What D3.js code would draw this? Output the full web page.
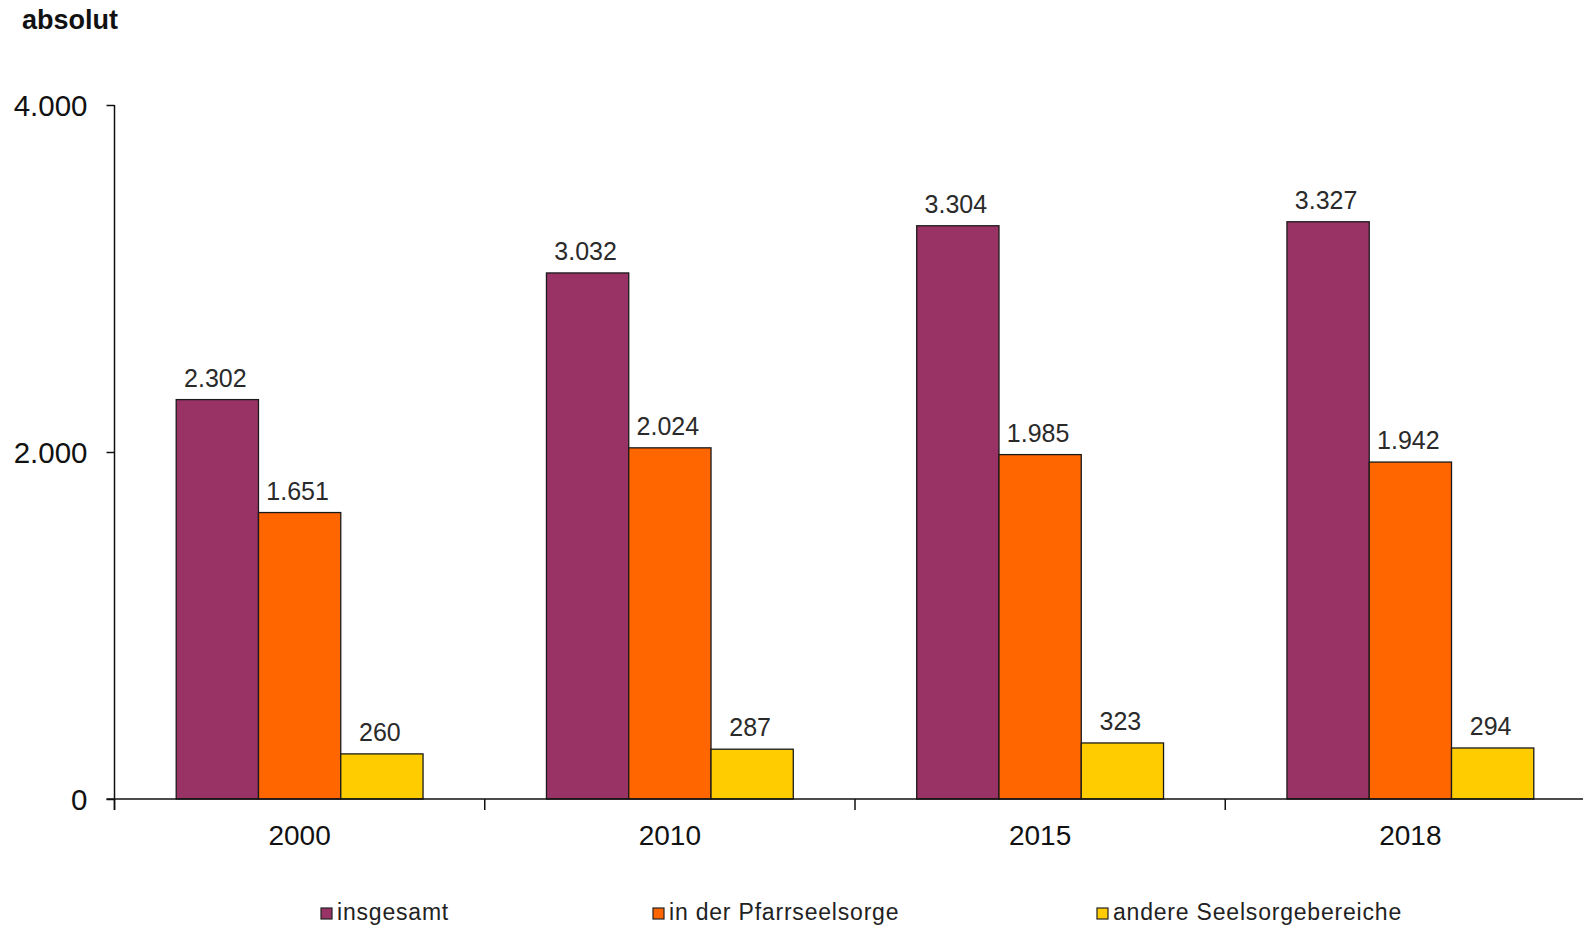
<!DOCTYPE html>
<html>
<head>
<meta charset="utf-8">
<script src="https://cdn.jsdelivr.net/npm/d3@7"></script>
<style>
  html, body { margin: 0; padding: 0; background: #fff; }
  svg { display: block; font-family: "Liberation Sans", Arial, sans-serif; }
</style>
</head>
<body>
<svg id="chart" width="1583" height="928"></svg>
<script>
// ---- data ----
const years = ["2000", "2010", "2015", "2018"];
const seriesNames = ["insgesamt", "in der Pfarrseelsorge", "andere Seelsorgebereiche"];
const insgesamt = [2302, 3032, 3304, 3327];
const pfarrseelsorge = [1651, 2024, 1985, 1942];
const andere = [260, 287, 323, 294];
const yTicks = [0, 2000, 4000];
const colors = ["#993366", "#FF6600", "#FFCC00"];
const yLabel = "absolut";

const seriesValues = [insgesamt, pfarrseelsorge, andere];

// ---- layout ----
const svg = d3.select("#chart");
const plotLeft = 114.5, plotRight = 1595.5, plotTop = 105, plotBottom = 799;

const de = d3.formatLocale({ decimal: ",", thousands: ".", grouping: [3], currency: ["", " €"] });
const fmt = de.format(",d");

const x0 = d3.scaleBand().domain(years).range([plotLeft, plotRight]).paddingInner(0).paddingOuter(0);
const x1 = d3.scaleBand().domain(seriesNames).range([0, x0.bandwidth()]).paddingInner(0).paddingOuter(0.75);
const y = d3.scaleLinear().domain([0, 4000]).range([plotBottom, plotTop]);

// bars
const groups = svg.append("g").selectAll("g")
  .data(years)
  .join("g")
  .attr("transform", d => `translate(${x0(d)},0)`);

groups.selectAll("rect")
  .data((d, i) => seriesNames.map((s, j) => ({ s, j, v: seriesValues[j][i] })))
  .join("rect")
  .attr("x", d => x1(d.s))
  .attr("y", d => y(d.v))
  .attr("width", x1.bandwidth())
  .attr("height", d => y(0) - y(d.v))
  .attr("fill", d => colors[d.j])
  .attr("stroke", "#1a1a1a")
  .attr("stroke-width", 1.3);

groups.selectAll("text.val")
  .data((d, i) => seriesNames.map((s, j) => ({ s, j, v: seriesValues[j][i] })))
  .join("text")
  .attr("class", "val")
  .attr("x", d => x1(d.s) + x1.bandwidth() / 2 - 2)
  .attr("y", d => y(d.v) - 13)
  .attr("text-anchor", "middle")
  .attr("font-size", 25)
  .attr("fill", "#2a2a2a")
  .text(d => fmt(d.v));

// y axis
const yAxis = d3.axisLeft(y).tickValues(yTicks).tickFormat(fmt).tickSize(8).tickSizeOuter(0);
const gy = svg.append("g").attr("transform", `translate(${plotLeft},0)`).call(yAxis);
gy.select(".domain").attr("stroke", "#111").attr("stroke-width", 1.5)
  .attr("d", `M0,${plotTop}V${plotBottom + 11}`);
gy.selectAll(".tick line").attr("stroke", "#111").attr("stroke-width", 1.5);
gy.selectAll(".tick text")
  .attr("x", -27)
  .attr("dy", "0.35em")
  .attr("font-size", 29.5)
  .attr("fill", "#111")
  .attr("font-family", "Liberation Sans, Arial, sans-serif");

// x axis
const xTickScale = d3.scaleLinear().domain([0, years.length]).range([plotLeft, plotRight]);
const gx = svg.append("g").attr("transform", `translate(0,${plotBottom})`);
gx.append("path").attr("d", `M${plotLeft - 8},0H${plotRight}`).attr("stroke", "#111").attr("stroke-width", 1.5).attr("fill", "none");
gx.selectAll("line.tick")
  .data(d3.range(years.length + 1))
  .join("line")
  .attr("class", "tick")
  .attr("x1", d => xTickScale(d)).attr("x2", d => xTickScale(d))
  .attr("y1", 0).attr("y2", 11)
  .attr("stroke", "#111").attr("stroke-width", 1.5);
gx.selectAll("text")
  .data(years)
  .join("text")
  .attr("x", d => x0(d) + x0.bandwidth() / 2)
  .attr("y", 46)
  .attr("text-anchor", "middle")
  .attr("font-size", 28)
  .attr("fill", "#111")
  .text(d => d);

// y label
svg.append("text")
  .attr("x", 22).attr("y", 29)
  .attr("font-size", 27)
  .attr("font-weight", "bold")
  .attr("fill", "#111")
  .text(yLabel);

// legend
const legendX = [321, 653, 1097];
const lg = svg.append("g").selectAll("g")
  .data(seriesNames)
  .join("g")
  .attr("transform", (d, i) => `translate(${legendX[i]},908)`);
lg.append("rect")
  .attr("width", 11).attr("height", 11)
  .attr("fill", (d, i) => colors[i])
  .attr("stroke", "#222").attr("stroke-width", 1.2);
lg.append("text")
  .attr("x", 16).attr("y", 12)
  .attr("font-size", 23)
  .attr("letter-spacing", 0.8)
  .attr("fill", "#222")
  .text(d => d);
</script>
</body>
</html>
